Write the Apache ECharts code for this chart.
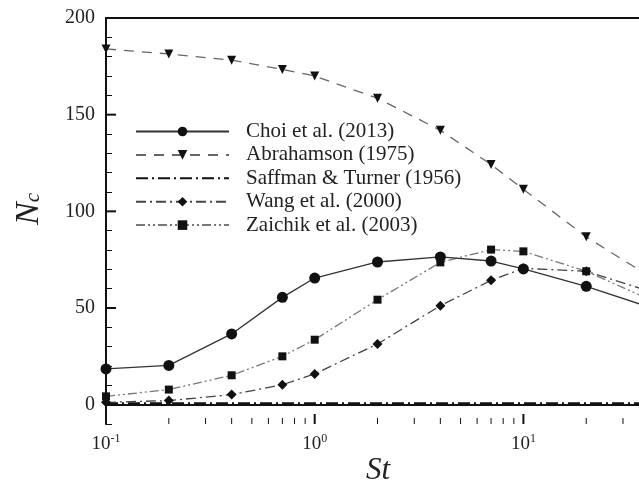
<!DOCTYPE html>
<html>
<head>
<meta charset="utf-8">
<script src="https://cdn.jsdelivr.net/npm/echarts@6/dist/echarts.min.js"></script>
<style>
html,body{margin:0;padding:0;background:#fff;}
#chart{width:639px;height:483px;}
</style>
</head>
<body>
<div id="chart"></div>
<script>
// ---- data ----
const stValues   = [0.1, 0.2, 0.4, 0.7, 1, 2, 4, 7, 10, 20, 40];
const choi       = [18.5, 20.3, 36.6, 55.5, 65.5, 73.8, 76.4, 74.3, 70.2, 61.2, 50.5];
const abrahamson = [184, 181.4, 178.2, 173.4, 170, 158.5, 141.9, 124.2, 111.4, 86.8, 66.5];
const saffman    = [0.8, 0.8, 0.8, 0.8, 0.8, 0.8, 0.8, 0.8, 0.8, 0.8, 0.8];
const wang       = [1.2, 2.1, 5.2, 10.3, 15.9, 31.4, 51.2, 64.3, 70.5, 69, 58.7];
const zaichik    = [4.3, 7.8, 15.2, 25, 33.6, 54.3, 73.6, 80.2, 79.3, 69, 54.5];
const seriesNames = ['Choi et al. (2013)', 'Abrahamson (1975)', 'Saffman & Turner (1956)', 'Wang et al. (2000)', 'Zaichik et al. (2003)'];
const xMajorTicks = [0.1, 1, 10];
const xMinorTicks = [0.2, 0.3, 0.4, 0.5, 0.6, 0.7, 0.8, 0.9, 2, 3, 4, 5, 6, 7, 8, 9, 20, 30];
const yMajorTicks = [0, 50, 100, 150, 200];
// visible x range: the reference picture is cut just before St = 40
const xMin = 0.1, xMax = 35.8, yMin = -10, yMax = 200;

const pair = (ys) => stValues.map((x, i) => [x, ys[i]]);
const FONT = '"Liberation Serif", "Times New Roman", serif';

const chart = echarts.init(document.getElementById('chart'), null, {renderer: 'canvas'});

function lineSeries(name, ys, color, width, type, symbol, size, rotate, z) {
  return {
    name: name, type: 'line', data: pair(ys), z: z, clip: true,
    symbol: symbol, symbolSize: size, symbolRotate: rotate || 0,
    showSymbol: symbol !== 'none',
    lineStyle: {color: color, width: width, type: type},
    itemStyle: {color: symbol === 'none' ? 'rgba(0,0,0,0)' : '#111', borderWidth: 0},
    emphasis: {disabled: true}, animation: false
  };
}

function tickSeries(name, data, dx, dy, w) {
  return {
    type: 'custom', name: name, silent: true, z: 10, clip: false,
    data: data,
    renderItem: function (params, api) {
      const p = api.coord([api.value(0), api.value(1)]);
      return {type: 'line', shape: {x1: p[0], y1: p[1], x2: p[0] + dx, y2: p[1] + dy},
              style: {stroke: '#111', lineWidth: w}};
    }
  };
}

const option = {
  animation: false,
  backgroundColor: '#fff',
  grid: {left: 106, top: 18, right: 0, height: 406, containLabel: false},
  xAxis: [{
    type: 'log', logBase: 10, min: xMin, max: xMax,
    axisLine: {show: true, lineStyle: {color: '#111', width: 2}},
    axisTick: {show: false},
    splitLine: {show: false},
    axisLabel: {
      margin: 9, color: '#222', showMaxLabel: false,
      formatter: function (v) {
        const e = Math.log10(v);
        if (Math.abs(e - Math.round(e)) > 1e-6) return '';
        return '{b|10}{s|' + Math.round(e) + '}';
      },
      rich: {
        b: {fontFamily: FONT, fontSize: 19, color: '#222', lineHeight: 22},
        s: {fontFamily: FONT, fontSize: 12, color: '#222', lineHeight: 12, verticalAlign: 'top'}
      }
    }
  }, {
    type: 'log', logBase: 10, min: xMin, max: xMax, position: 'top',
    axisLine: {show: true, lineStyle: {color: '#111', width: 2}},
    axisTick: {show: false}, axisLabel: {show: false}, splitLine: {show: false}
  }],
  yAxis: [{
    type: 'value', min: yMin, max: yMax, interval: 10,
    axisLine: {show: true, lineStyle: {color: '#111', width: 2}},
    axisTick: {show: true, inside: true, length: 6, lineStyle: {color: '#111', width: 1}},
    splitLine: {show: false},
    axisLabel: {
      margin: 11, color: '#222', fontFamily: FONT, fontSize: 20,
      formatter: function (v) { return (v >= 0 && v % 50 === 0) ? String(v) : ''; }
    }
  }],
  legend: {
    show: true, orient: 'vertical', left: 135, top: 121, padding: 0,
    itemWidth: 93, itemHeight: 12, itemGap: 2.4,
    data: seriesNames,
    textStyle: {fontFamily: FONT, fontSize: 21, color: '#222', lineHeight: 21, padding: [0, 0, 0, 12]},
    selectedMode: false
  },
  series: [
    lineSeries(seriesNames[2], saffman, '#111', 1.6, [12, 4, 2, 4], 'none', 0, 0, 2),
    lineSeries(seriesNames[4], zaichik, '#777', 1.3, [9, 3, 2, 3, 2, 3], 'rect', 8, 0, 3),
    lineSeries(seriesNames[3], wang, '#444', 1.3, [10, 4, 2, 4], 'diamond', 10, 0, 4),
    lineSeries(seriesNames[1], abrahamson, '#666', 1.3, [10, 8], 'triangle', 9, 180, 5),
    lineSeries(seriesNames[0], choi, '#333', 1.3, 'solid', 'circle', 11, 0, 6),
    tickSeries('xMajorTicks', xMajorTicks.map(v => [v, yMin]), 0, -10, 2),
    tickSeries('xMinorTicks', xMinorTicks.map(v => [v, yMin]), 0, -6, 1),
    tickSeries('yMajorTicks', yMajorTicks.map(v => [xMin, v]), 10, 0, 2)
  ],
  graphic: [
    {type: 'text', x: 378, y: 471, z: 100,
     style: {text: 'St', font: 'italic 31px ' + FONT, fill: '#222', align: 'center', verticalAlign: 'middle'}},
    {type: 'text', x: 29, y: 209, rotation: Math.PI / 2, z: 100,
     style: {text: '{n|N}{c|c}', align: 'center', verticalAlign: 'middle',
             rich: {n: {font: 'italic 34px ' + FONT, fill: '#222'},
                    c: {font: 'italic 21px ' + FONT, fill: '#222', padding: [8, 0, 0, 0]}}}}
  ]
};
chart.setOption(option);
</script>
</body>
</html>
